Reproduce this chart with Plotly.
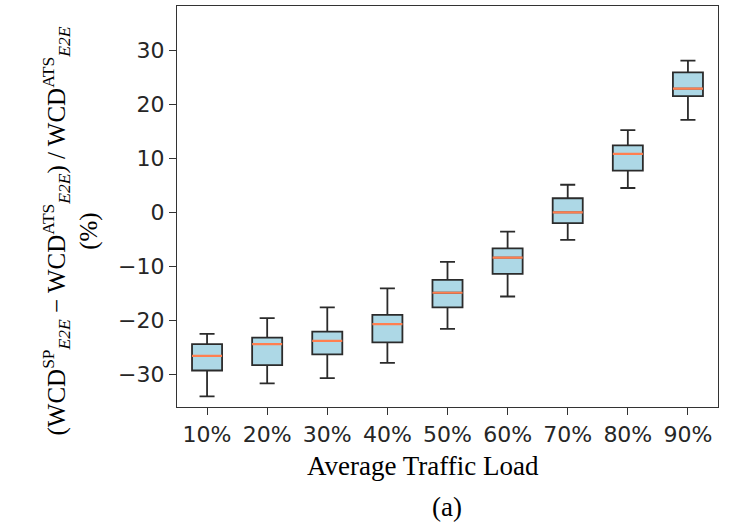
import plotly.graph_objects as go

categories = ["10%", "20%", "30%", "40%", "50%", "60%", "70%", "80%", "90%"]
positions = [1, 2, 3, 4, 5, 6, 7, 8, 9]
lower_whisker = [-34.1, -31.7, -30.7, -27.9, -21.6, -15.6, -5.1, 4.5, 17.1]
q1_vals = [-29.3, -28.3, -26.3, -24.1, -17.6, -11.4, -2.0, 7.7, 21.5]
median_vals = [-26.6, -24.4, -23.8, -20.7, -14.9, -8.4, 0.0, 10.8, 22.9]
q3_vals = [-24.4, -23.2, -22.1, -19.0, -12.5, -6.7, 2.6, 12.4, 25.9]
upper_whisker = [-22.5, -19.6, -17.6, -14.1, -9.2, -3.6, 5.1, 15.2, 28.1]
y_ticks = [-30, -20, -10, 0, 10, 20, 30]

fig = go.Figure()
fig.add_trace(go.Box(
    x=positions, q1=q1_vals, median=median_vals, q3=q3_vals,
    lowerfence=lower_whisker, upperfence=upper_whisker,
    width=0.5, whiskerwidth=0.5,
    fillcolor="#ADD8E6", line=dict(color="#2b2b2b", width=1.8),
    boxpoints=False, hoverinfo="skip", showlegend=False,
))
fig.add_trace(go.Box(
    x=positions, q1=median_vals, median=median_vals, q3=median_vals,
    lowerfence=median_vals, upperfence=median_vals,
    width=0.5, whiskerwidth=0,
    fillcolor="rgba(0,0,0,0)", line=dict(color="#FF7F50", width=2.2),
    boxpoints=False, hoverinfo="skip", showlegend=False,
))

axis_font = dict(family="DejaVu Sans", size=22, color="#262626")
fig.update_xaxes(
    range=[0.5, 9.5], tickvals=positions, ticktext=categories,
    ticks="outside", ticklen=7, tickwidth=1.3, tickcolor="#333",
    showline=True, linecolor="#333", linewidth=1.3, mirror=True,
    showgrid=False, zeroline=False, tickfont=axis_font,
)
fig.update_yaxes(
    range=[-36.06, 38.2], tickvals=y_ticks,
    ticks="outside", ticklen=7, tickwidth=1.3, tickcolor="#333",
    showline=True, linecolor="#333", linewidth=1.3, mirror=True,
    showgrid=False, zeroline=False, tickfont=axis_font,
)

serif = dict(family="Liberation Serif", size=27, color="black")
fig.add_annotation(
    text="(WCD<sup>SP</sup><sub><i>E2E</i></sub> − WCD<sup>ATS</sup><sub><i>E2E</i></sub>)"
         " / WCD<sup>ATS</sup><sub><i>E2E</i></sub><br>(%)",
    xref="paper", yref="paper", x=-0.196, y=0.44,
    xanchor="center", yanchor="middle", textangle=-90,
    showarrow=False, font=dict(family="Liberation Serif", size=25, color="black"),
)
fig.add_annotation(
    text="Average Traffic Load", xref="paper", yref="paper",
    x=0.455, y=-0.147, xanchor="center", yanchor="middle",
    showarrow=False, font=serif,
)
fig.add_annotation(
    text="(a)", xref="paper", yref="paper",
    x=0.499, y=-0.25, xanchor="center", yanchor="middle",
    showarrow=False, font=serif,
)

fig.update_layout(
    width=729, height=523,
    margin=dict(l=177, r=11, t=6, b=116),
    plot_bgcolor="white", paper_bgcolor="white",
    boxmode="overlay",
)
fig.write_html("out.html")
